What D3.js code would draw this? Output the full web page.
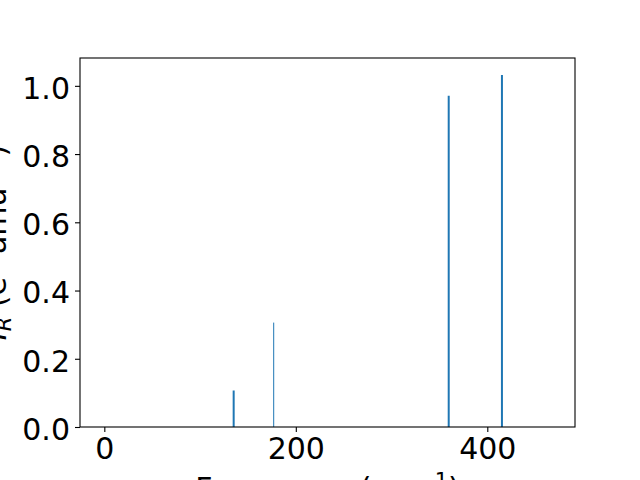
<!DOCTYPE html>
<html>
<head>
<meta charset="utf-8">
<script src="https://cdn.jsdelivr.net/npm/d3@7"></script>
<style>
  body { margin: 0; background: #fff; }
  svg { display: block; font-family: "DejaVu Sans", sans-serif; }
</style>
</head>
<body>
<div id="chart"></div>
<script>
// frequencies (cm^-1) and intensities
var freqs = [135.1, 176.9, 359.7, 415.3];
var intensities = [0.107, 0.306, 0.971, 1.032];
var lineWidths = [2, 1, 2, 2];

var xTicks = [0, 200, 400];
var yTicks = [0.0, 0.2, 0.4, 0.6, 0.8, 1.0];

var width = 640, height = 480;
var margin = {top: 58, right: 65, bottom: 53, left: 80};
var w = width - margin.left - margin.right;
var h = height - margin.top - margin.bottom;

var svg = d3.select("#chart").append("svg")
    .attr("width", width)
    .attr("height", height);

var g = svg.append("g")
    .attr("transform", "translate(" + margin.left + "," + margin.top + ")");

var xScale = d3.scaleLinear()
    .domain([-25.4, 491.6])
    .range([0, w]);

var yScale = d3.scaleLinear()
    .domain([0, 1.0816])
    .range([h, 0]);

// sticks
g.selectAll(".stick")
    .data(freqs)
    .enter().append("line")
    .attr("class", "stick")
    .attr("x1", function(d) { return xScale(d); })
    .attr("x2", function(d) { return xScale(d); })
    .attr("y1", yScale(0))
    .attr("y2", function(d, i) { return yScale(intensities[i]); })
    .attr("stroke", "#1f77b4")
    .attr("stroke-width", function(d, i) { return lineWidths[i]; });

// x axis
var xAxis = g.append("g")
    .attr("transform", "translate(0," + h + ")")
    .call(d3.axisBottom(xScale).tickValues(xTicks).tickSize(5).tickPadding(5)
        .tickFormat(d3.format("d")));

// y axis
var yAxis = g.append("g")
    .call(d3.axisLeft(yScale).tickValues(yTicks).tickSize(5).tickPadding(5)
        .tickFormat(d3.format(".1f")));

[xAxis, yAxis].forEach(function(a) {
    a.select(".domain").remove();
    a.selectAll(".tick line").attr("stroke", "#000").attr("stroke-width", 1.1);
    a.selectAll(".tick text")
        .attr("fill", "#000")
        .style("font-family", "DejaVu Sans")
        .style("font-size", "30px");
});
xAxis.selectAll(".tick text").attr("dy", "0.73em");
yAxis.selectAll(".tick text").attr("dy", "0.41em");

// frame
g.append("rect")
    .attr("x", 0)
    .attr("y", 0)
    .attr("width", w)
    .attr("height", h)
    .attr("fill", "none")
    .attr("stroke", "#000")
    .attr("stroke-width", 1.1);

// axis labels (partly off the canvas, as in the original)
svg.append("text")
    .attr("x", margin.left + w / 2)
    .attr("y", 499)
    .attr("text-anchor", "middle")
    .style("font-size", "30px")
    .html("Frequency (cm<tspan dy='-11' font-size='21px'>\u22121</tspan><tspan dy='11'>)</tspan>");

svg.append("text")
    .attr("transform", "translate(6," + (margin.top + h / 2) + ") rotate(-90)")
    .attr("text-anchor", "middle")
    .style("font-size", "30px")
    .html("<tspan font-style='italic'>I</tspan><tspan dy='5' font-size='21px' font-style='italic'>R</tspan><tspan dy='-5'> (e</tspan><tspan dy='-11' font-size='21px'>2</tspan><tspan dy='11'> amu</tspan><tspan dy='-11' font-size='21px'>\u22121</tspan><tspan dy='11'>)</tspan>");
</script>
</body>
</html>
